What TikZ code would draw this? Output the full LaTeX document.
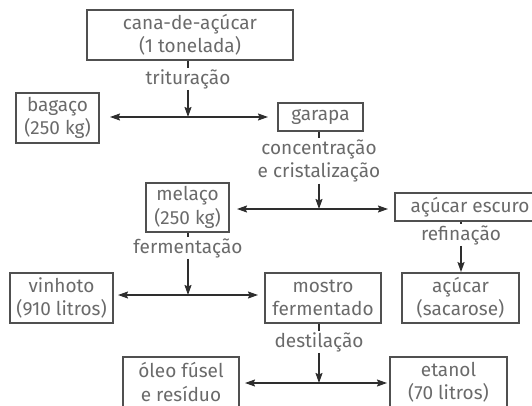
\documentclass[tikz,border=0pt]{standalone}
\usepackage{fontspec}
\setmainfont{Fira Sans}
\usetikzlibrary{arrows.meta}
\definecolor{boxc}{HTML}{505050}
\definecolor{txtc}{HTML}{6A6A6A}
\definecolor{arrc}{HTML}{2E2E2E}
\begin{document}
\begin{tikzpicture}[x=1pt,y=-1pt,
  box/.style={draw=boxc,line width=1.8pt,inner sep=0pt,align=center,text=txtc,
    font=\fontsize{19}{23.5}\selectfont},
  lbl/.style={fill=white,inner sep=1pt,align=center,text=txtc,
    font=\fontsize{19}{23.5}\selectfont},
  ln/.style={draw=arrc,line width=1.4pt},
  arr/.style={ln,-{Stealth[length=10pt,width=7pt,inset=1.5pt]}}]
\useasboundingbox (0,0) rectangle (532,406);
% boxes
\node[box,minimum width=206pt,minimum height=50pt] (cana) at (190,35) {cana-de-açúcar\\(1 tonelada)};
\node[box,minimum width=83pt,minimum height=50pt] (bagaco) at (57.5,118) {bagaço\\(250 kg)};
\node[box,minimum width=85pt,minimum height=28pt] (garapa) at (320.5,117) {garapa};
\node[box,minimum width=83pt,minimum height=49pt] (melaco) at (187.5,207.5) {melaço\\(250 kg)};
\node[box,minimum width=150pt,minimum height=28pt] (escuro) at (470,207) {açúcar escuro};
\node[box,minimum width=117pt,minimum height=50pt] (sacarose) at (460.5,298) {açúcar\\(sacarose)};
\node[box,minimum width=103pt,minimum height=50pt] (vinhoto) at (61.5,298) {vinhoto\\(910 litros)};
\node[box,minimum width=116pt,minimum height=50pt] (mosto) at (323,298) {mostro\\fermentado};
\node[box,minimum width=116pt,minimum height=50pt] (oleo) at (181,382) {óleo fúsel\\e resíduo};
\node[box,minimum width=117pt,minimum height=50pt] (etanol) at (448.5,382) {etanol\\(70 litros)};
% labels
\node[lbl] (l1) at (188,79) {trituração};
\node[lbl] (l2) at (319,161) {concentração\\e cristalização};
\node[lbl] (l3) at (188,248) {fermentação};
\node[lbl] (l4) at (461,235) {refinação};
\node[lbl] (l5) at (319,342) {destilação};
% junctions and ends
\coordinate (j1) at (188,117);
\coordinate (j1l) at (110,117);
\coordinate (j1r) at (268,117);
\coordinate (j2) at (319,209);
\coordinate (j2l) at (237,209);
\coordinate (j2r) at (388,209);
\coordinate (j3) at (188,295);
\coordinate (j3l) at (118,295);
\coordinate (j3r) at (258,295);
\coordinate (j5) at (319,383);
\coordinate (j5l) at (245,383);
\coordinate (j5r) at (387,383);
% connectors
\draw[ln] (cana.south -| l1) -- (l1);
\draw[arr] (l1) -- (j1);
\draw[arr] (j1) -- (j1l);
\draw[arr] (j1) -- (j1r);
\draw[ln] (garapa.south -| l2) -- (l2);
\draw[arr] (l2) -- (j2);
\draw[arr] (j2) -- (j2l);
\draw[arr] (j2) -- (j2r);
\draw[ln] (melaco.south -| l3) -- (l3);
\draw[arr] (l3) -- (j3);
\draw[arr] (j3) -- (j3l);
\draw[arr] (j3) -- (j3r);
\draw[ln] (escuro.south -| l4) -- (l4);
\draw[arr] (l4) -- (sacarose.north -| l4);
\draw[ln] (mosto.south -| l5) -- (l5);
\draw[arr] (l5) -- (j5);
\draw[arr] (j5) -- (j5l);
\draw[arr] (j5) -- (j5r);
\end{tikzpicture}
\end{document}
